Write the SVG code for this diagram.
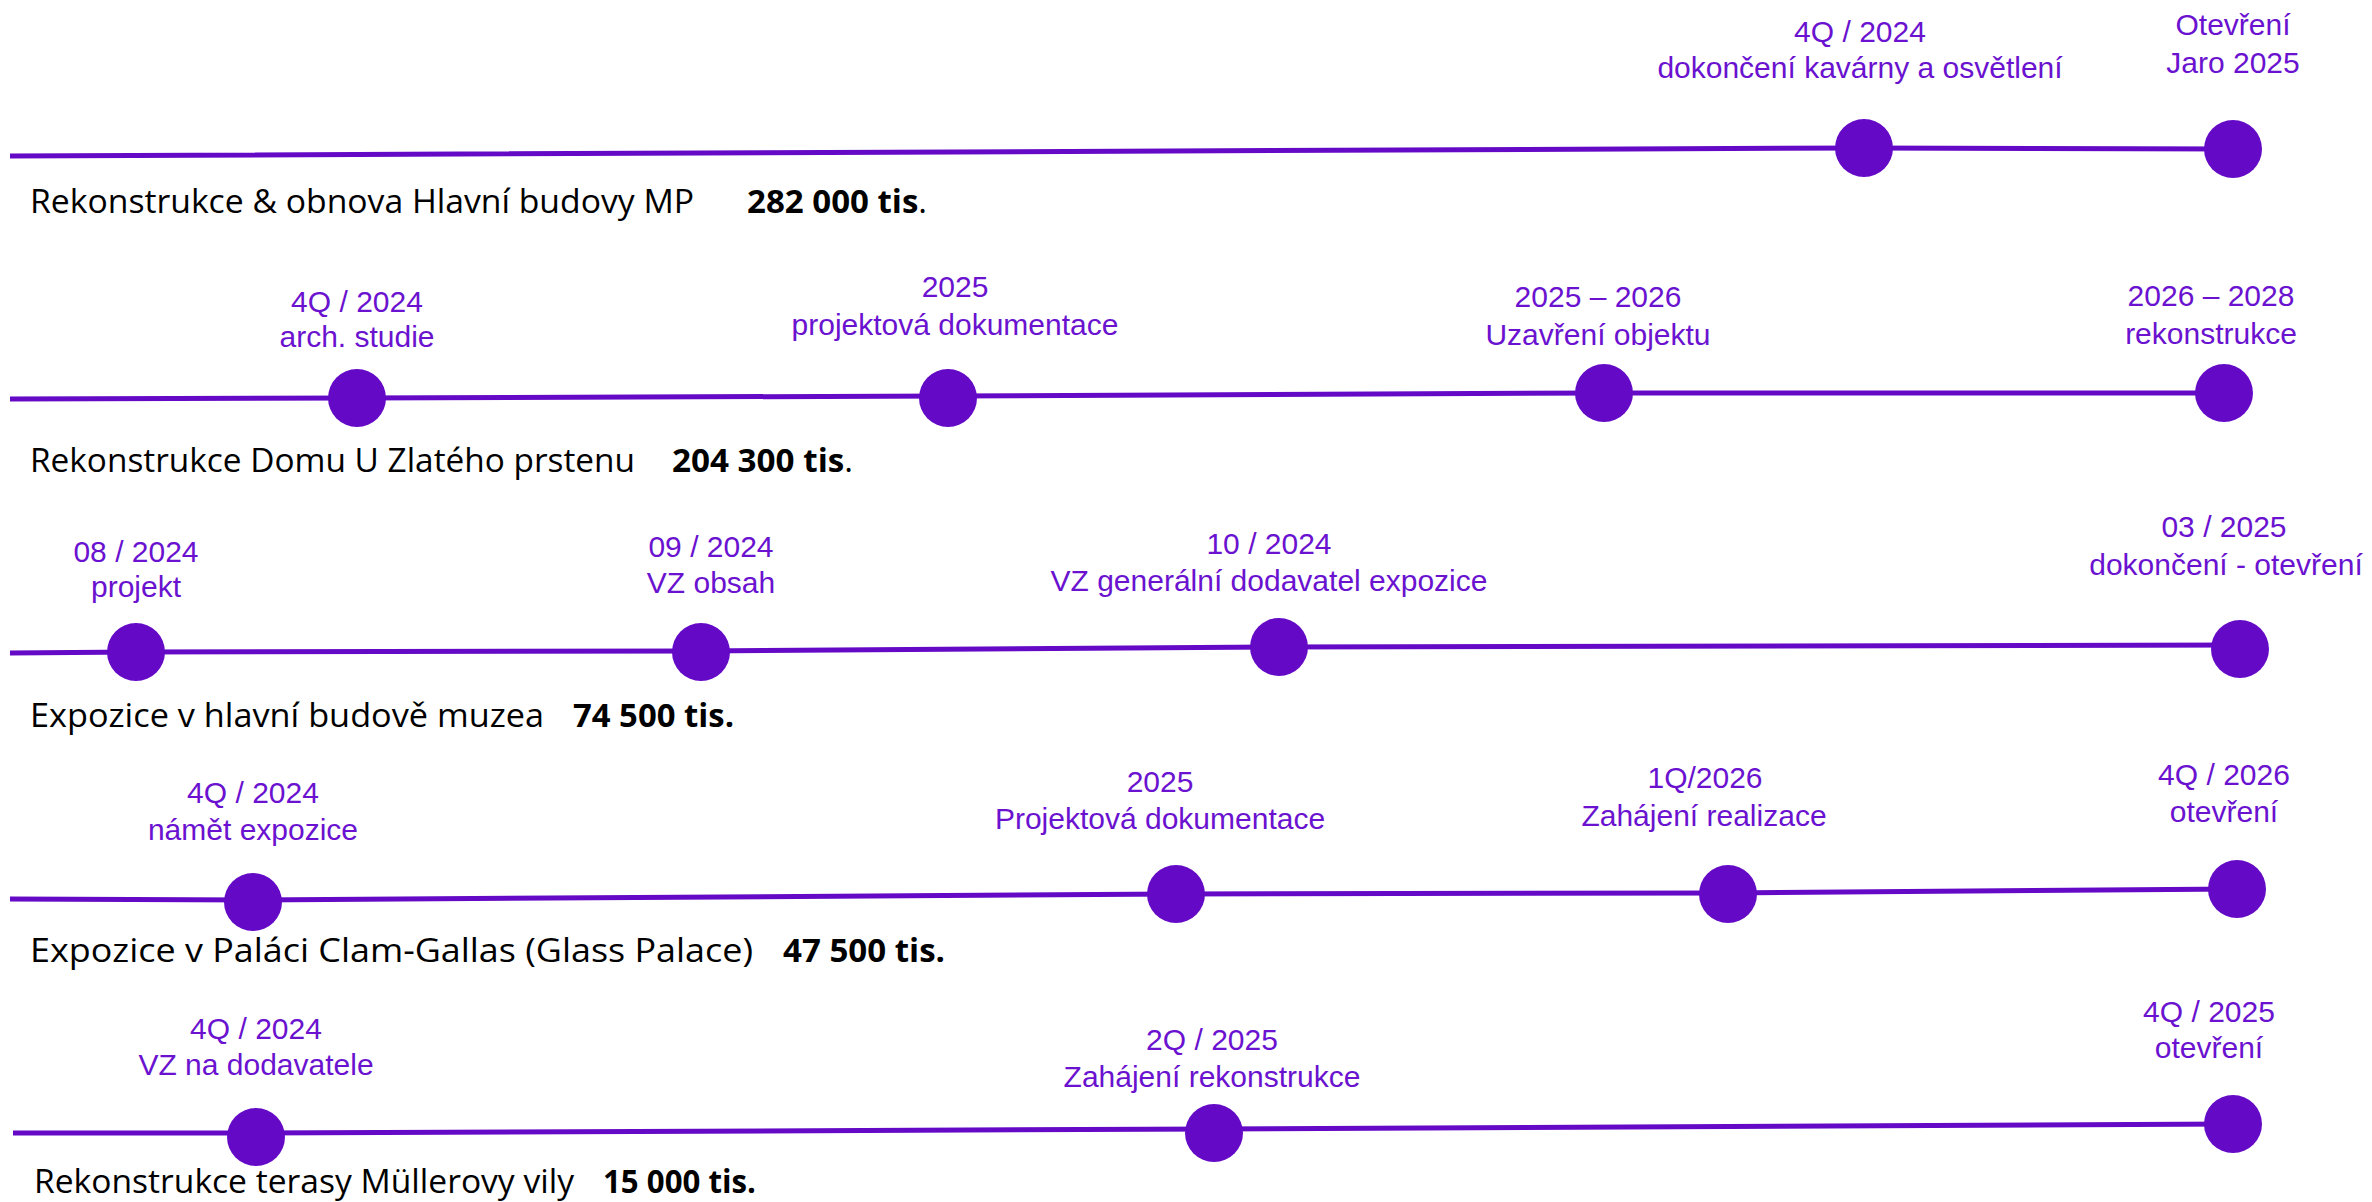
<svg xmlns="http://www.w3.org/2000/svg" width="2372" height="1202" viewBox="0 0 2372 1202">
<style>
.bg{fill:#ffffff}
.ln{fill:none;stroke:#6409C6;stroke-width:5;stroke-linecap:butt}
.nd{fill:#6409C6}
.lb{font-family:"Liberation Sans",Arial,sans-serif;font-size:30px;fill:#6A12CF;text-anchor:middle}
.tt{font-family:"Open Sans","Liberation Sans",sans-serif;font-size:32px;fill:#000000}
.b{font-weight:700}
</style>
<rect class="bg" x="0" y="0" width="2372" height="1202"/>
<g id="connectors">
<polyline class="ln" points="10,156 1864,148 2233,149"/>
<polyline class="ln" points="10,399 357,398 948,396 1604,393 2224,393"/>
<polyline class="ln" points="10,653 136,652 701,651 1279,647 2240,645"/>
<polyline class="ln" points="10,899 253,900 1176,894 1728,893 2237,889"/>
<polyline class="ln" points="13,1133 256,1133 1214,1129 2233,1124"/>
</g>
<g id="row1">
<text class="tt" x="30" y="213" textLength="664" lengthAdjust="spacingAndGlyphs">Rekonstrukce &amp; obnova Hlavní budovy MP</text>
<text class="tt" x="747" y="213" textLength="180" lengthAdjust="spacingAndGlyphs"><tspan class="b">282 000 tis</tspan>.</text>
<g id="r1n1"><circle class="nd" cx="1864" cy="148" r="29"/><text class="lb" x="1860" y="42">4Q / 2024</text><text class="lb" x="1860" y="78">dokončení kavárny a osvětlení</text></g>
<g id="r1n2"><circle class="nd" cx="2233" cy="149" r="29"/><text class="lb" x="2233" y="35">Otevření</text><text class="lb" x="2233" y="73">Jaro 2025</text></g>
</g>
<g id="row2">
<text class="tt" x="30" y="472" textLength="605" lengthAdjust="spacingAndGlyphs">Rekonstrukce Domu U Zlatého prstenu</text>
<text class="tt" x="672" y="472" textLength="181" lengthAdjust="spacingAndGlyphs"><tspan class="b">204 300 tis</tspan>.</text>
<g id="r2n1"><circle class="nd" cx="357" cy="398" r="29"/><text class="lb" x="357" y="312">4Q / 2024</text><text class="lb" x="357" y="347">arch. studie</text></g>
<g id="r2n2"><circle class="nd" cx="948" cy="398" r="29"/><text class="lb" x="955" y="297">2025</text><text class="lb" x="955" y="335">projektová dokumentace</text></g>
<g id="r2n3"><circle class="nd" cx="1604" cy="393" r="29"/><text class="lb" x="1598" y="307">2025 – 2026</text><text class="lb" x="1598" y="345">Uzavření objektu</text></g>
<g id="r2n4"><circle class="nd" cx="2224" cy="393" r="29"/><text class="lb" x="2211" y="306">2026 – 2028</text><text class="lb" x="2211" y="344">rekonstrukce</text></g>
</g>
<g id="row3">
<text class="tt" x="30" y="727" textLength="514" lengthAdjust="spacingAndGlyphs">Expozice v hlavní budově muzea</text>
<text class="tt b" x="573" y="727" textLength="161" lengthAdjust="spacingAndGlyphs">74 500 tis.</text>
<g id="r3n1"><circle class="nd" cx="136" cy="652" r="29"/><text class="lb" x="136" y="562">08 / 2024</text><text class="lb" x="136" y="597">projekt</text></g>
<g id="r3n2"><circle class="nd" cx="701" cy="652" r="29"/><text class="lb" x="711" y="557">09 / 2024</text><text class="lb" x="711" y="593">VZ obsah</text></g>
<g id="r3n3"><circle class="nd" cx="1279" cy="647" r="29"/><text class="lb" x="1269" y="554">10 / 2024</text><text class="lb" x="1269" y="591">VZ generální dodavatel expozice</text></g>
<g id="r3n4"><circle class="nd" cx="2240" cy="649" r="29"/><text class="lb" x="2224" y="537">03 / 2025</text><text class="lb" x="2226" y="575">dokončení - otevření</text></g>
</g>
<g id="row4">
<text class="tt" x="30" y="962" textLength="723" lengthAdjust="spacingAndGlyphs">Expozice v Paláci Clam-Gallas (Glass Palace)</text>
<text class="tt b" x="783" y="962" textLength="162" lengthAdjust="spacingAndGlyphs">47 500 tis.</text>
<g id="r4n1"><circle class="nd" cx="253" cy="902" r="29"/><text class="lb" x="253" y="803">4Q / 2024</text><text class="lb" x="253" y="840">námět expozice</text></g>
<g id="r4n2"><circle class="nd" cx="1176" cy="894" r="29"/><text class="lb" x="1160" y="792">2025</text><text class="lb" x="1160" y="829">Projektová dokumentace</text></g>
<g id="r4n3"><circle class="nd" cx="1728" cy="894" r="29"/><text class="lb" x="1705" y="788">1Q/2026</text><text class="lb" x="1704" y="826">Zahájení realizace</text></g>
<g id="r4n4"><circle class="nd" cx="2237" cy="889" r="29"/><text class="lb" x="2224" y="785">4Q / 2026</text><text class="lb" x="2224" y="822">otevření</text></g>
</g>
<g id="row5">
<text class="tt" x="34" y="1193" textLength="540" lengthAdjust="spacingAndGlyphs">Rekonstrukce terasy Müllerovy vily</text>
<text class="tt b" x="603" y="1193" textLength="153" lengthAdjust="spacingAndGlyphs">15 000 tis.</text>
<g id="r5n1"><circle class="nd" cx="256" cy="1137" r="29"/><text class="lb" x="256" y="1039">4Q / 2024</text><text class="lb" x="256" y="1075">VZ na dodavatele</text></g>
<g id="r5n2"><circle class="nd" cx="1214" cy="1133" r="29"/><text class="lb" x="1212" y="1050">2Q / 2025</text><text class="lb" x="1212" y="1087">Zahájení rekonstrukce</text></g>
<g id="r5n3"><circle class="nd" cx="2233" cy="1124" r="29"/><text class="lb" x="2209" y="1022">4Q / 2025</text><text class="lb" x="2209" y="1058">otevření</text></g>
</g>
</svg>
